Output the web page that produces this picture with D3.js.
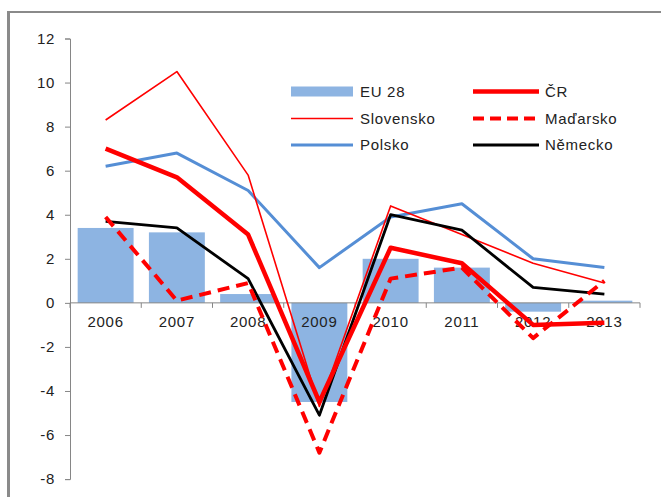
<!DOCTYPE html>
<html>
<head>
<meta charset="utf-8">
<script src="https://cdn.jsdelivr.net/npm/d3@7"></script>
<style>
  body { margin: 0; background: #fff; }
  svg text { font-family: "Liberation Sans", Arial, sans-serif; font-size: 15px; fill: #222; letter-spacing: 0.7px; }
</style>
</head>
<body>
<div id="chart"></div>
<script>
// data (GDP growth, %)
const years = ["2006", "2007", "2008", "2009", "2010", "2011", "2012", "2013"];
const eu28 = [3.4, 3.2, 0.4, -4.5, 2.0, 1.6, -0.4, 0.1];
const cr = [7.0, 5.7, 3.1, -4.5, 2.5, 1.8, -1.0, -0.9];
const slovensko = [8.3, 10.5, 5.8, -4.7, 4.4, 3.1, 1.8, 0.9];
const madarsko = [3.9, 0.1, 0.9, -6.8, 1.1, 1.6, -1.6, 1.0];
const polsko = [6.2, 6.8, 5.1, 1.6, 3.9, 4.5, 2.0, 1.6];
const nemecko = [3.7, 3.4, 1.1, -5.1, 4.0, 3.3, 0.7, 0.4];
const yTicks = [-8, -6, -4, -2, 0, 2, 4, 6, 8, 10, 12];

const W = 661, H = 497;
const plot = { left: 70, right: 640, top: 38.5, bottom: 479.1 };

const svg = d3.select("#chart").append("svg")
  .attr("width", W)
  .attr("height", H);

// frame (only top and left edges are visible)
svg.append("rect").attr("x", 7).attr("y", 11).attr("width", W - 7).attr("height", 2).attr("fill", "#8a8a8a");
svg.append("rect").attr("x", 7).attr("y", 11).attr("width", 3).attr("height", H - 11).attr("fill", "#8a8a8a");

const y = d3.scaleLinear().domain([-8, 12]).range([plot.bottom, plot.top]);

// one band per year, no padding: for axis ticks and line points
const xCat = d3.scaleBand().domain(years).range([plot.left, plot.right]);
// bars are narrower inside each band
const xBar = d3.scaleBand().domain(years).range([plot.left, plot.right])
  .paddingInner(0.215).paddingOuter(0.1075);

const cx = function (d) { return xCat(d) + xCat.bandwidth() / 2; };

// y axis
const yAxis = d3.axisLeft(y).tickValues(yTicks).tickSize(5).tickPadding(10)
  .tickFormat(d3.format("d"));
const gy = svg.append("g")
  .attr("transform", "translate(" + plot.left + ",0)")
  .call(yAxis);
gy.select(".domain").attr("stroke", "#868686");
gy.selectAll(".tick line").attr("stroke", "#868686");
gy.selectAll(".tick text").attr("font-size", null).attr("font-family", null)
  .text(function (d) { return d < 0 ? "-" + Math.abs(d) : d; });

// bars
svg.append("g").selectAll("rect")
  .data(years)
  .enter().append("rect")
  .attr("x", function (d) { return xBar(d); })
  .attr("width", xBar.bandwidth())
  .attr("y", function (d, i) { return y(Math.max(0, eu28[i])); })
  .attr("height", function (d, i) { return Math.abs(y(eu28[i]) - y(0)); })
  .attr("fill", "#8db4e2");

// x axis at zero, ticks on band boundaries
const gx = svg.append("g");
gx.append("line")
  .attr("x1", plot.left).attr("x2", plot.right)
  .attr("y1", y(0)).attr("y2", y(0))
  .attr("stroke", "#868686");
const bounds = years.map(function (d) { return xCat(d); }).concat([plot.right]);
gx.selectAll(".xt")
  .data(bounds)
  .enter().append("line")
  .attr("class", "xt")
  .attr("x1", function (d) { return d; }).attr("x2", function (d) { return d; })
  .attr("y1", y(0)).attr("y2", y(0) + 5)
  .attr("stroke", "#868686");

const series = [
  { name: "Polsko", values: polsko, color: "#558ed5", width: 3, dash: null },
  { name: "Slovensko", values: slovensko, color: "#ff0000", width: 1.6, dash: null },
  { name: "Německo", values: nemecko, color: "#000000", width: 2.8, dash: null },
  { name: "Maďarsko", values: madarsko, color: "#ff0000", width: 4, dash: "12,7" },
  { name: "ČR", values: cr, color: "#ff0000", width: 4.5, dash: null }
];

const line = d3.line()
  .x(function (d) { return cx(d.year); })
  .y(function (d) { return y(d.value); });

svg.append("g").selectAll("path")
  .data(series)
  .enter().append("path")
  .attr("d", function (s) {
    return line(years.map(function (yr, i) { return { year: yr, value: s.values[i] }; }));
  })
  .attr("fill", "none")
  .attr("stroke", function (s) { return s.color; })
  .attr("stroke-width", function (s) { return s.width; })
  .attr("stroke-dasharray", function (s) { return s.dash; })
  .attr("stroke-linejoin", "round");

// x labels drawn after the lines, like in the original
gx.selectAll(".xl")
  .data(years)
  .enter().append("text")
  .attr("class", "xl")
  .attr("x", cx)
  .attr("y", y(0) + 19)
  .attr("dy", "0.35em")
  .attr("text-anchor", "middle")
  .text(function (d) { return d; });

// legend
const legendItems = [
  { name: "EU 28", col: 0, row: 0, type: "bar", color: "#8db4e2" },
  { name: "Slovensko", col: 0, row: 1, type: "line", color: "#ff0000", width: 1.6, dash: null },
  { name: "Polsko", col: 0, row: 2, type: "line", color: "#558ed5", width: 3, dash: null },
  { name: "ČR", col: 1, row: 0, type: "line", color: "#ff0000", width: 4.5, dash: null },
  { name: "Maďarsko", col: 1, row: 1, type: "line", color: "#ff0000", width: 4, dash: "11,6" },
  { name: "Německo", col: 1, row: 2, type: "line", color: "#000000", width: 2.8, dash: null }
];
const legX = [291, 473], legY = [91.5, 118.5, 145], keyW = 62;

const leg = svg.append("g").selectAll("g")
  .data(legendItems)
  .enter().append("g")
  .attr("transform", function (d) { return "translate(" + legX[d.col] + "," + legY[d.row] + ")"; });

leg.filter(function (d) { return d.type === "bar"; })
  .append("rect")
  .attr("x", 0).attr("y", -5).attr("width", keyW).attr("height", 10)
  .attr("fill", function (d) { return d.color; });

leg.filter(function (d) { return d.type === "line"; })
  .append("line")
  .attr("x1", 0).attr("x2", function (d) { return d.col === 0 ? keyW : 66; })
  .attr("y1", 0).attr("y2", 0)
  .attr("stroke", function (d) { return d.color; })
  .attr("stroke-width", function (d) { return d.width; })
  .attr("stroke-dasharray", function (d) { return d.dash; });

leg.append("text")
  .attr("x", function (d) { return d.col === 0 ? 69 : 72; })
  .attr("dy", "0.35em")
  .text(function (d) { return d.name; });
</script>
</body>
</html>
